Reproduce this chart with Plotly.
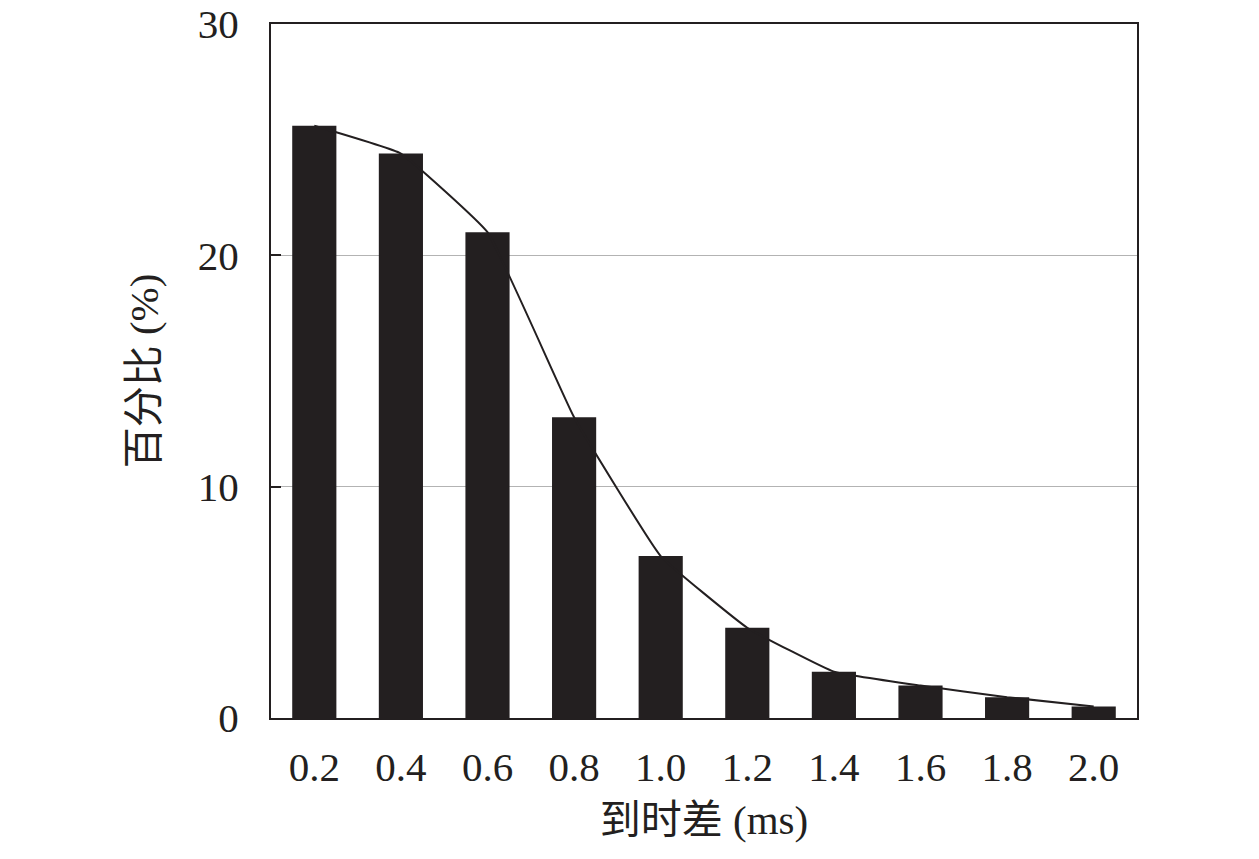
import plotly.graph_objects as go

# arrival time difference categories (ms) and percentage
time_diff = ["0.2", "0.4", "0.6", "0.8", "1.0", "1.2", "1.4", "1.6", "1.8", "2.0"]
percent = [25.6, 24.4, 21.0, 13.0, 7.0, 3.9, 2.0, 1.4, 0.9, 0.5]

FONT = "Liberation Serif, Times New Roman, Noto Sans CJK SC, serif"

fig = go.Figure()
fig.add_trace(go.Bar(x=time_diff, y=percent, width=0.51,
                     marker=dict(color="#231f20", line=dict(width=0))))
fig.add_trace(go.Scatter(x=time_diff, y=percent, mode="lines",
                         line=dict(color="#231f20", width=2, shape="spline", smoothing=0.3)))

fig.update_layout(
    width=1251, height=851,
    margin={"l": 263, "r": 122, "t": 16, "b": 141, "autoexpand": False},
    paper_bgcolor="white", plot_bgcolor="white",
    showlegend=False,
    font=dict(family=FONT, size=41, color="#231f20"),
)
fig.update_xaxes(
    type="category", range=[-0.5, 9.5], automargin=False,
    showline=True, linecolor="#231f20", linewidth=2, mirror=True,
    ticks="", showgrid=False, ticklabelstandoff=12,
    title=dict(text="到时差 (ms)", font=dict(size=41), standoff=16),
)
fig.update_yaxes(
    range=[0, 30], tickvals=[0, 10, 20, 30], automargin=False,
    ticklabeloverflow="allow",
    showline=True, linecolor="#231f20", linewidth=2, mirror=True,
    ticks="inside", ticklen=10, tickwidth=2, tickcolor="#231f20",
    showgrid=True, gridcolor="#b3b3b3", gridwidth=1,
    zeroline=False, ticklabelstandoff=22,
    title=dict(text="百分比 (%)", font=dict(size=41), standoff=26),
)

fig.write_html("out.html")
